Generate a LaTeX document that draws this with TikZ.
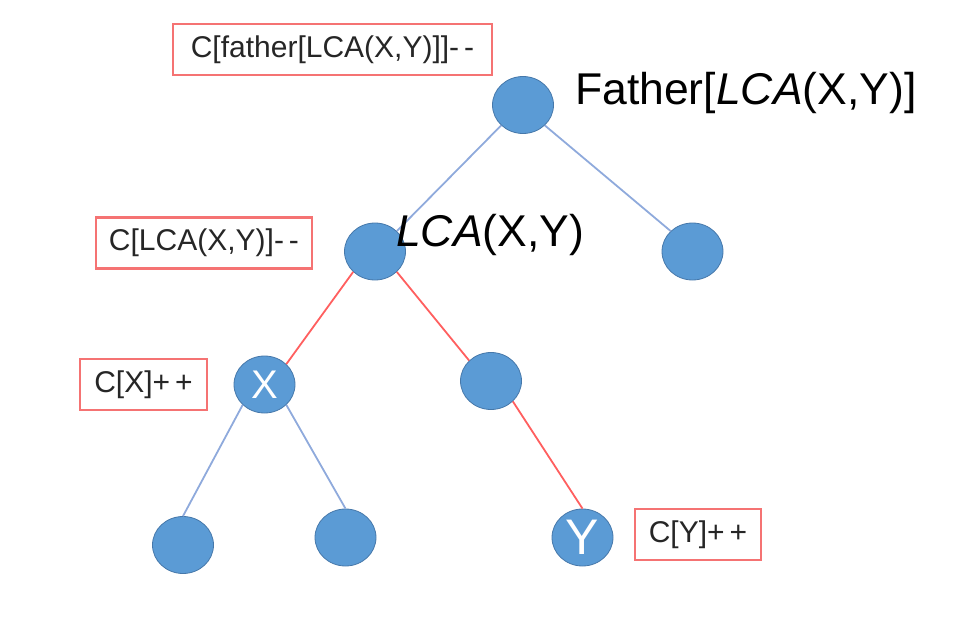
\documentclass[tikz,border=0pt]{standalone}
\usepackage{fontspec}
\setmainfont{Liberation Sans}
\usetikzlibrary{shapes.geometric}
\definecolor{nodefill}{RGB}{91,155,213}
\definecolor{nodeline}{RGB}{70,120,170}
\definecolor{blueline}{RGB}{143,170,220}
\definecolor{redline}{RGB}{255,95,95}
\definecolor{boxred}{RGB}{245,115,115}
\begin{document}
\begin{tikzpicture}[x=1pt,y=-1pt,
  tnode/.style={ellipse, draw=nodeline, line width=0.8pt, fill=nodefill, minimum width=61pt, minimum height=57pt, inner sep=0pt, text=white, font=\fontsize{40}{40}\selectfont},
  lbox/.style={draw=boxred, line width=2.2pt, fill=white, inner sep=0pt, minimum height=51pt, font=\fontsize{30}{32}\selectfont, text=black!85},
  bedge/.style={draw=blueline, line width=1.8pt},
  redge/.style={draw=redline, line width=1.8pt},
  hand/.style={font=\fontsize{44.5}{48}\selectfont, anchor=base west, inner sep=0pt, text=black}
]
\useasboundingbox (0,0) rectangle (954,624);
% tree nodes
\node[tnode] (root) at (523,105) {};
\node[tnode] (lca) at (375,251.5) {};
\node[tnode] (rc) at (692.5,251.5) {};
\node[tnode] (x) at (264.5,384.5) {X};
\node[tnode] (m) at (491,381) {};
\node[tnode] (l1) at (183,545) {};
\node[tnode] (l2) at (345.5,537.5) {};
\node[tnode, font=\fontsize{50}{50}\selectfont] (y) at (582.5,537.5) {Y};
% connectors
\draw[bedge] (root.south west) -- (lca.north east);
\draw[bedge] (root.south east) -- (rc.north west);
\draw[redge] (lca.south west) -- (x.north east);
\draw[redge] (lca.south east) -- (m.north west);
\draw[bedge] (x.south west) -- (l1.north);
\draw[bedge] (x.south east) -- (l2.north);
\draw[redge] (m.south east) -- (y.north);
% labels
\node[hand] (fl) at (575,104) {Father[\textit{LCA}(X,Y)]};
\node[hand] (ll) at (396,246) {\textit{LCA}(X,Y)};
% boxes
\node[lbox, minimum width=319pt] (b1) at (332.5,49.5) {C[father[LCA(X,Y)]]-\,-};
\node[lbox, minimum width=216pt] (b2) at (204,243) {C[LCA(X,Y)]-\,-};
\node[lbox, minimum width=127pt] (b3) at (143.5,384.5) {C[X]+\,+};
\node[lbox, minimum width=126pt] (b4) at (698,534.5) {C[Y]+\,+};
\end{tikzpicture}
\end{document}
